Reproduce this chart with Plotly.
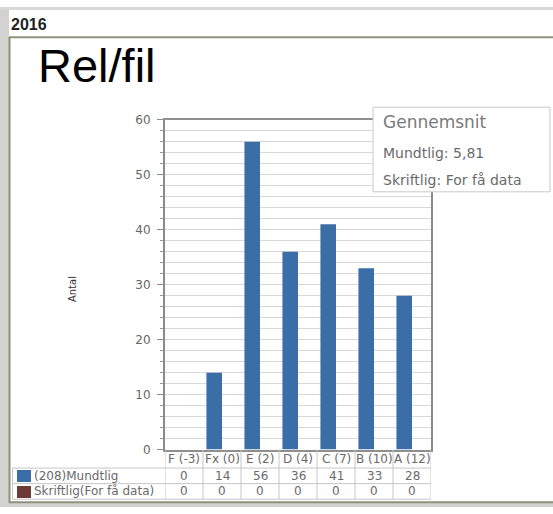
import plotly.graph_objects as go

# ---- data ----
categories = ["F (-3)", "Fx (0)", "E (2)", "D (4)", "C (7)", "B (10)", "A (12)"]
mundtlig = [0, 14, 56, 36, 41, 33, 28]
skriftlig = [0, 0, 0, 0, 0, 0, 0]
series_names = ["(208)Mundtlig", "Skriftlig(For få data)"]
series_colors = ["#3b6ea6", "#6e3a36"]
year_label = "2016"
page_title = "Rel/fil"
y_title = "Antal"
avg_title = "Gennemsnit"
avg_lines = ["Mundtlig: 5,81", "Skriftlig: For få data"]

W, H = 553, 514


def X(px):
    return px / W


def Y(py):
    return 1 - py / H


fig = go.Figure()

fig.add_trace(go.Bar(x=categories, y=mundtlig, name=series_names[0],
                     marker=dict(color=series_colors[0], line=dict(width=0))))
fig.add_trace(go.Bar(x=categories, y=skriftlig, name=series_names[1],
                     marker=dict(color=series_colors[1], line=dict(width=0))))

ncat = len(categories)
GRID = "#c6c6c6"
TXT = dict(family="DejaVu Sans", size=12, color="#6a6a6a")

shapes = [
    # gray frame around the slide panel
    dict(type="rect", xref="paper", yref="paper", x0=0, x1=X(9), y0=0, y1=1,
         fillcolor="#d2d2d0", line=dict(width=0), layer="below"),
    dict(type="rect", xref="paper", yref="paper", x0=0, x1=1, y0=1, y1=Y(3),
         fillcolor="#d8d8d6", line=dict(width=0), layer="below"),
    dict(type="rect", xref="paper", yref="paper", x0=0, x1=1, y0=0, y1=Y(510),
         fillcolor="#d2d2d0", line=dict(width=0), layer="below"),
    dict(type="line", xref="paper", yref="paper", x0=X(9.5), x1=X(9.5), y0=Y(510), y1=Y(31),
         line=dict(color="#8d9279", width=2), layer="below"),
    dict(type="line", xref="paper", yref="paper", x0=X(9), x1=1, y0=Y(31), y1=Y(31),
         line=dict(color="#8d9279", width=2), layer="below"),
    dict(type="line", xref="paper", yref="paper", x0=X(9), x1=1, y0=Y(509), y1=Y(509),
         line=dict(color="#8d9279", width=2), layer="below"),
    # average box
    dict(type="rect", xref="paper", yref="paper", x0=X(373), x1=X(550), y0=Y(190), y1=Y(103),
         fillcolor="white", line=dict(color="#c8c8c8", width=1), layer="above"),
]

# data table grid: row lines and column lines (columns follow the category axis)
for yy in (474, 490, 506):
    shapes.append(dict(type="line", xref="paper", yref="paper", x0=X(12), x1=X(431),
                       y0=Y(yy), y1=Y(yy), line=dict(color=GRID, width=1)))
shapes.append(dict(type="line", xref="paper", yref="paper", x0=X(12.5), x1=X(12.5),
                   y0=Y(474), y1=Y(506), line=dict(color=GRID, width=1)))
for i in range(ncat + 1):
    shapes.append(dict(type="line", xref="x", yref="paper", x0=i - 0.5, x1=i - 0.5,
                       y0=Y(455), y1=Y(506), line=dict(color=GRID, width=1)))

annotations = [
    dict(text="<b>" + year_label + "</b>", x=X(9), y=Y(18), xref="paper", yref="paper",
         xanchor="left", yanchor="middle", showarrow=False,
         font=dict(family="Liberation Sans, Arial", size=16, color="#222")),
    dict(text=page_title, x=X(36), y=Y(60), xref="paper", yref="paper",
         xanchor="left", yanchor="middle", showarrow=False,
         font=dict(family="Liberation Sans, Arial", size=47, color="#000")),
    dict(text=y_title, x=X(72), y=Y(290), xref="paper", yref="paper", textangle=-90,
         xanchor="center", yanchor="middle", showarrow=False,
         font=dict(family="DejaVu Sans", size=10, color="#333")),
    dict(text=avg_title, x=X(381), y=Y(118), xref="paper", yref="paper",
         xanchor="left", yanchor="middle", showarrow=False,
         font=dict(family="DejaVu Sans", size=17, color="#7a7a7a")),
    dict(text=avg_lines[0], x=X(381), y=Y(150), xref="paper", yref="paper",
         xanchor="left", yanchor="middle", showarrow=False,
         font=dict(family="DejaVu Sans", size=14, color="#6a6a6a")),
    dict(text=avg_lines[1], x=X(381), y=Y(178), xref="paper", yref="paper",
         xanchor="left", yanchor="middle", showarrow=False,
         font=dict(family="DejaVu Sans", size=14, color="#6a6a6a")),
]

# table contents: category labels and the two series rows, placed on the category axis
row_y = [482, 498]
for cat, m, s in zip(categories, mundtlig, skriftlig):
    annotations.append(dict(text=cat, x=cat, y=Y(465), xref="x", yref="paper",
                            xanchor="center", yanchor="middle", showarrow=False, font=TXT))
    for v, ry in zip((m, s), row_y):
        annotations.append(dict(text=str(v), x=cat, y=Y(ry), xref="x", yref="paper",
                                xanchor="center", yanchor="middle", showarrow=False, font=TXT))

# series legend in the table's first column
for name, c, ry in zip(series_names, series_colors, row_y):
    annotations.append(dict(text="", x=X(17), y=Y(ry + 0.5), xref="paper", yref="paper",
                            xanchor="left", yanchor="middle", showarrow=False,
                            width=14, height=12, bgcolor=c, borderpad=0, borderwidth=0))
    annotations.append(dict(text=name, x=X(32), y=Y(ry), xref="paper", yref="paper",
                            xanchor="left", yanchor="middle", showarrow=False, font=TXT))

fig.update_layout(
    width=W, height=H, autosize=False,
    margin=dict(l=0, r=0, t=0, b=0),
    paper_bgcolor="white", plot_bgcolor="white",
    showlegend=False,
    barmode="group", bargap=0.18, bargroupgap=0,
    shapes=shapes, annotations=annotations,
    xaxis=dict(domain=[X(165), X(431)], range=[-0.5, ncat - 0.5],
               showticklabels=False, ticks="",
               showline=True, linecolor="#8f8f8f", linewidth=2, mirror=True,
               showgrid=False, zeroline=False, fixedrange=True),
    yaxis=dict(domain=[Y(455), Y(116)], range=[0, 60], dtick=10,
               showline=True, linecolor="#8a8a8a", linewidth=2, mirror=True,
               ticks="outside", ticklen=6, tickcolor="#8a8a8a", tickwidth=1,
               showgrid=True, gridcolor="#d8d8d8", gridwidth=1,
               minor=dict(dtick=2, showgrid=True, gridcolor="#d8d8d8",
                          ticks="outside", ticklen=3, tickcolor="#9a9a9a"),
               zeroline=False, ticklabelstandoff=4,
               tickfont=dict(family="DejaVu Sans", size=12, color="#666"),
               fixedrange=True),
)

fig.write_html("out.html", config={"displayModeBar": False},
               post_script="document.body.style.margin='0';document.body.style.overflow='hidden';")
